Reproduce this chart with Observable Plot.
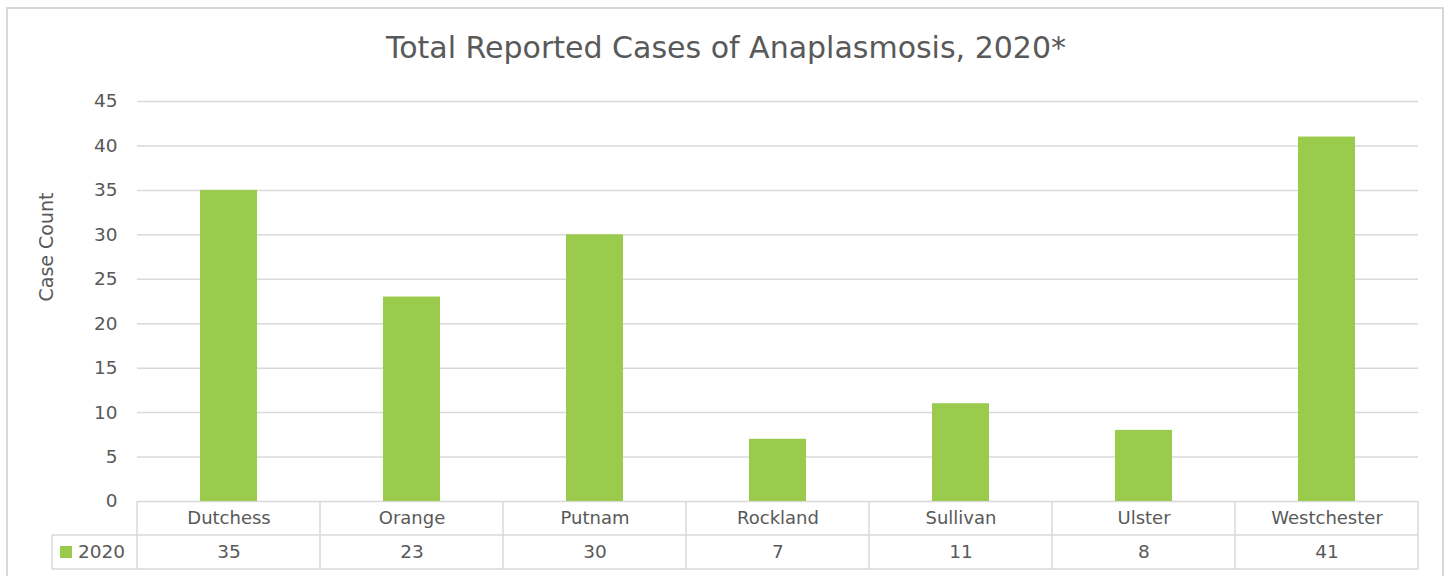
<!DOCTYPE html>
<html>
<head>
<meta charset="utf-8">
<script src="https://cdn.jsdelivr.net/npm/d3@7"></script>
<script src="https://cdn.jsdelivr.net/npm/@observablehq/plot@0.6"></script>
<style>
  html, body { margin: 0; padding: 0; background: #fff; }
  #wrap { position: relative; width: 1448px; height: 576px; overflow: hidden; font-family: "DejaVu Sans", sans-serif; color: #595959; }
  #frame { position: absolute; left: 6px; top: 7px; width: 1438px; height: 600px; border: 2px solid #d9d9d9; box-sizing: border-box; }
  #title { position: relative; height: 88px; line-height: 96px; text-align: center; font-size: 30px; color: #595959; padding-left: 4px; }
  #chart { position: relative; }
</style>
</head>
<body>
<div id="wrap">
  <div id="frame"></div>
  <div id="title">Total Reported Cases of Anaplasmosis, 2020*</div>
  <div id="chart"></div>
</div>
<script>
const counties = ["Dutchess", "Orange", "Putnam", "Rockland", "Sullivan", "Ulster", "Westchester"];
const cases2020 = [35, 23, 30, 7, 11, 8, 41];
const yTicks = [0, 5, 10, 15, 20, 25, 30, 35, 40, 45];
const seriesName = "2020";
const yLabel = "Case Count";

const barColor = "#9BCB4C";
const gridColor = "#d9d9d9";
const textColor = "#595959";

const data = counties.map((c, i) => ({county: c, value: cases2020[i]}));

const W = 1448, H = 488;
const mL = 137, mR = 30, mT = 13, mB = 75;
const rowH = 34;

const plot = Plot.plot({
  width: W,
  height: H,
  marginLeft: mL,
  marginRight: mR,
  marginTop: mT,
  marginBottom: mB,
  style: {fontFamily: "DejaVu Sans, sans-serif", color: textColor, background: "transparent", overflow: "visible"},
  x: {domain: counties, paddingInner: 0.69, paddingOuter: 0.345, axis: null},
  y: {domain: [0, 45], ticks: yTicks, axis: null},
  marks: [
    Plot.gridY(yTicks, {stroke: gridColor, strokeOpacity: 1, strokeWidth: 1.5}),
    Plot.axisY(yTicks, {tickSize: 0, tickPadding: 20, fontSize: 18.5, fill: textColor, label: null}),
    Plot.barY(data, {x: "county", y: "value", fill: barColor}),
    Plot.text(data, {x: "county", text: "county", frameAnchor: "bottom", lineAnchor: "middle", dy: 17, fontSize: 18, fill: textColor}),
    Plot.text(data, {x: "county", text: d => String(d.value), frameAnchor: "bottom", lineAnchor: "middle", dy: 51, fontSize: 18.5, fill: textColor}),
    Plot.text([yLabel], {text: d => d, frameAnchor: "left", dx: -91, rotate: -90, fontSize: 19, fill: textColor})
  ]
});

document.getElementById("chart").appendChild(plot);

// Data table lines below the chart, positioned with Plot's x scale
const xs = plot.scale("x");
const step = xs.step;
const offset = (step - xs.bandwidth) / 2;
const edges = counties.map(c => xs.apply(c) - offset);
edges.push(edges[edges.length - 1] + step);
const svg = d3.select(plot);
const yb = H - mB;
const legendX = 52;
const g = svg.append("g").attr("stroke", gridColor).attr("stroke-width", 1.5);
edges.forEach(x => {
  g.append("line").attr("x1", x).attr("x2", x).attr("y1", yb).attr("y2", yb + 2 * rowH);
});
g.append("line").attr("x1", legendX).attr("x2", edges[edges.length - 1]).attr("y1", yb + rowH).attr("y2", yb + rowH);
g.append("line").attr("x1", legendX).attr("x2", edges[edges.length - 1]).attr("y1", yb + 2 * rowH).attr("y2", yb + 2 * rowH);
g.append("line").attr("x1", legendX).attr("x2", legendX).attr("y1", yb + rowH).attr("y2", yb + 2 * rowH);
// legend key
svg.append("rect").attr("x", legendX + 8).attr("y", yb + rowH + 11).attr("width", 12).attr("height", 12).attr("fill", barColor);
svg.append("text").attr("x", legendX + 26).attr("y", yb + rowH + rowH / 2).attr("dy", "0.35em")
  .attr("text-anchor", "start")
  .attr("font-size", 18.5).attr("fill", textColor).attr("font-family", "DejaVu Sans, sans-serif").text(seriesName);
</script>
</body>
</html>
